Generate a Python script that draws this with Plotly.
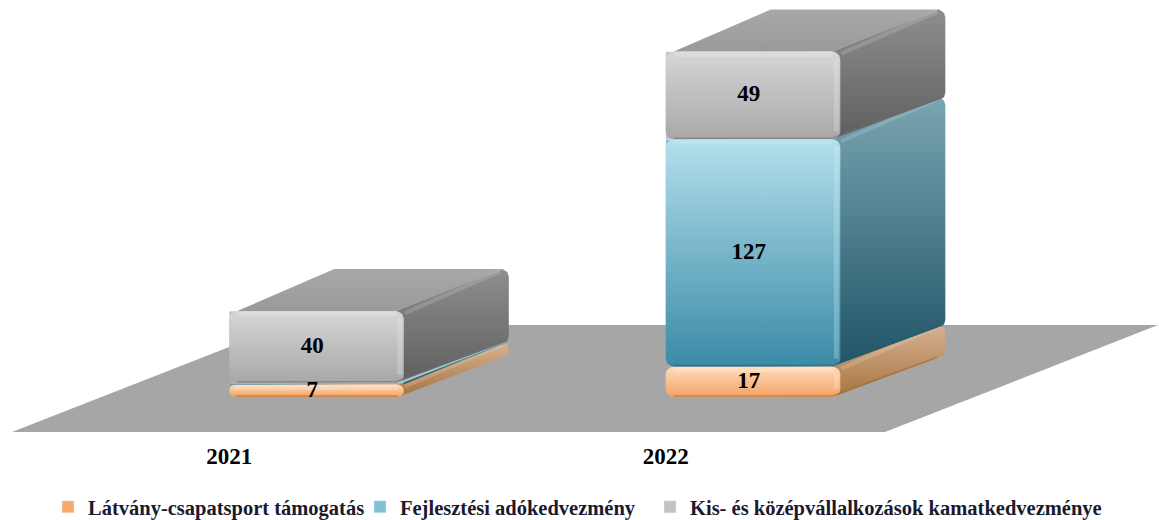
import math
import plotly.graph_objects as go

# ---- data ----
years = ["2021", "2022"]
series_names = ["Látvány-csapatsport támogatás", "Fejlesztési adókedvezmény", "Kis- és középvállalkozások kamatkedvezménye"]
latvany = [7, 17]
fejlesztesi = [1, 127]
kis_kozep = [40, 49]
series_values = [latvany, fejlesztesi, kis_kozep]
min_labelled = 5

# ---- styling ----
FONT = "Liberation Serif"
W_PX, H_PX = 1159, 520
PLOT_BOTTOM = 440
X_RANGE = [-0.7251, 1.9301]
Y_RANGE = [-24.0, 221.8]
BAR_WIDTH = 0.4
BAR_DEPTH = (105, 42)
FLOOR_DEPTH = (273, 107)
RADIUS = 8
styles = [
    dict(front=("#f2a263", "#ffdcbc"), side=("#a8743f", "#d6b294"), top=("#d2b095", "#dcbca2"),
         hi="#fff0e0", dark="#a8642c", legend="#f6a96d"),
    dict(front=("#3a8aa6", "#b4e0ec"), side=("#205467", "#7aa5b1"), top=("#9cc4cf", "#a9d0da"),
         hi="#d0f2fa", dark="#236075", legend="#7fc0d4"),
    dict(front=("#a8a8a8", "#d6d6d6"), side=("#5f5f5f", "#8e8e8e"), top=("#9a9a9a", "#a8a8a8"),
         hi="#ececec", dark="#6e6e6e", legend="#c2c2c2"),
]

ux = W_PX / (X_RANGE[1] - X_RANGE[0])          # pixels per category
uy = PLOT_BOTTOM / (Y_RANGE[1] - Y_RANGE[0])   # pixels per value
dx = lambda p: p / ux
dy = lambda p: p / uy


def rounded(x0, x1, y0, y1, r):
    """Rounded rectangle outline in data units, radius r in pixels."""
    xs, ys = [], []
    corners = [(x1 - dx(r), y1 - dy(r), 0), (x0 + dx(r), y1 - dy(r), 90),
               (x0 + dx(r), y0 + dy(r), 180), (x1 - dx(r), y0 + dy(r), 270)]
    for cx, cy, a0 in corners:
        for k in range(7):
            a = math.radians(a0 + k * 15)
            xs.append(cx + dx(r) * math.cos(a))
            ys.append(cy + dy(r) * math.sin(a))
    return xs + xs[:1], ys + ys[:1]


def side_poly(xr, y0, y1, r):
    Dx, Dy = dx(BAR_DEPTH[0]), dy(BAR_DEPTH[1])
    xs, ys = [xr - dx(r), xr + Dx - dx(r)], [y0, y0 + Dy - dy(r * .4)]
    cx, cy = xr + Dx - dx(r), y0 + Dy + dy(r * .6)
    for k in range(7):
        a = math.radians(-90 + k * 15)
        xs.append(cx + dx(r) * math.cos(a)); ys.append(cy + dy(r) * math.sin(a))
    cy = y1 + Dy - dy(r)
    for k in range(7):
        a = math.radians(k * 15)
        xs.append(cx + dx(r) * math.cos(a)); ys.append(cy + dy(r) * math.sin(a))
    xs += [xr - dx(r), xr - dx(r)]; ys += [y1, y0]
    return xs, ys


def gradient(cols):
    return dict(type="vertical", colorscale=[[0, cols[0]], [1, cols[1]]])


fig = go.Figure()

# real stacked bars carry the values and the legend swatches
for k, (name, vals) in enumerate(zip(series_names, series_values)):
    fig.add_bar(x=[0, 1], y=vals, width=BAR_WIDTH, name=name, marker_color=styles[k]["legend"],
                legend="legend" if k == 0 else f"legend{k + 1}", hoverinfo="skip")

# floor of the 3-D scene, derived from the category span
fx0, fx1 = -0.6976, 1.3024
fy0 = dy(-35)
fig.add_scatter(x=[fx0, fx1, fx1 + dx(FLOOR_DEPTH[0]), fx0 + dx(FLOOR_DEPTH[0]), fx0],
                y=[fy0, fy0, fy0 + dy(FLOOR_DEPTH[1]), fy0 + dy(FLOOR_DEPTH[1]), fy0],
                mode="lines", line_width=0, fill="toself", fillcolor="#a6a6a6",
                showlegend=False, hoverinfo="skip")

lab_x, lab_y, lab_t = [], [], []
for i in range(len(years)):
    low = 0
    for k, vals in enumerate(series_values):
        v = vals[i]
        high = low + v
        st = styles[k]
        x0, x1 = i - BAR_WIDTH / 2, i + BAR_WIDTH / 2
        Dx, Dy = dx(BAR_DEPTH[0]), dy(BAR_DEPTH[1])
        h_px = v * uy
        r = min(RADIUS, h_px / 2.01)
        # side
        sx, sy = side_poly(x1, low, high, r)
        fig.add_scatter(x=sx, y=sy, mode="lines", line_width=0, fill="toself", fillgradient=gradient(st["side"]),
                        showlegend=False, hoverinfo="skip")
        # top
        fig.add_scatter(x=[x0 + dx(r), x0 + Dx, x1 + Dx - dx(r * .6), x1 - dx(r), x0 + dx(r)],
                        y=[high, high + Dy, high + Dy, high, high],
                        mode="lines", line_width=0, fill="toself", fillgradient=gradient(st["top"]),
                        showlegend=False, hoverinfo="skip")
        # front
        fx, fy = rounded(x0, x1, low, high, r)
        fig.add_scatter(x=fx, y=fy, mode="lines", line_width=0, fill="toself", fillgradient=gradient(st["front"]),
                        showlegend=False, hoverinfo="skip")
        if h_px > 6:
            # bevel highlights and dark base edge
            fig.add_scatter(x=[x0 + dx(r), x1 - dx(r), None, x1 - dx(4), x1 - dx(4)],
                            y=[high - dy(3), high - dy(3), None, high - dy(r), low + dy(r)],
                            mode="lines", line=dict(color=st["hi"], width=5), opacity=.28,
                            showlegend=False, hoverinfo="skip")
            fig.add_scatter(x=[x1 + dx(1), x1 + Dx - dx(r)], y=[high - dy(2), high + Dy - dy(2)],
                            mode="lines", line=dict(color=st["hi"], width=4), opacity=.18,
                            showlegend=False, hoverinfo="skip")
            base_x = [x0 + dx(r), x1 - dx(r)]
            base_y = [low + dy(1), low + dy(1)]
            if h_px > 20:
                base_x.append(x1 + Dx - dx(r))
                base_y.append(low + Dy - dy(r * .4) + dy(1))
            fig.add_scatter(x=base_x, y=base_y,
                            mode="lines", line=dict(color=st["dark"], width=1.5), opacity=.55,
                            showlegend=False, hoverinfo="skip")
        if v >= min_labelled:
            lab_x.append(i - 0.01)
            lab_y.append((low + high) / 2)
            lab_t.append(str(v))
        low = high

fig.add_scatter(x=lab_x, y=lab_y, text=lab_t, mode="text", showlegend=False, hoverinfo="skip",
                textfont=dict(family=FONT, size=23, color="black", weight="bold"))

legend_style = dict(orientation="h", yanchor="bottom", xanchor="left", y=0,
                    font=dict(family=FONT, size=20.5, color="#1a1a2e", weight="bold"),
                    bgcolor="rgba(0,0,0,0)", borderwidth=0)
text_starts = [88, 400, 690]
legends = {("legend" if k == 0 else f"legend{k + 1}"): dict(legend_style, x=(t - 40) / W_PX)
           for k, t in enumerate(text_starts)}

fig.update_layout(
    width=W_PX, height=H_PX, autosize=False, barmode="stack", showlegend=True,
    margin=dict(l=0, r=0, t=0, b=0, pad=0),
    paper_bgcolor="white", plot_bgcolor="white",
    xaxis=dict(range=X_RANGE, tickmode="array", tickvals=[i - BAR_WIDTH / 2 for i in range(len(years))],
               ticktext=years, showgrid=False, zeroline=False, showline=False, ticks="", fixedrange=True,
               tickfont=dict(family=FONT, size=23, color="black", weight="bold")),
    yaxis=dict(range=Y_RANGE, visible=False, fixedrange=True, domain=[1 - PLOT_BOTTOM / H_PX, 1]),
    **legends,
)

# plotly keeps a legend inside the page; nudge the rows down to the reference's baseline
shift_legends = """
document.body.style.margin='0';
document.querySelectorAll('g.infolayer > g').forEach(function(g){
  if (!/^legend\\d*$/.test(g.getAttribute('class') || '')) return;
  var m = /translate\\(([-\\d.]+),\\s*([-\\d.]+)\\)/.exec(g.getAttribute('transform'));
  if (m) g.setAttribute('transform', 'translate(' + m[1] + ',' + (parseFloat(m[2]) + 7) + ')');
});
"""
fig.write_html("out.html", config={"displayModeBar": False}, post_script=shift_legends)
